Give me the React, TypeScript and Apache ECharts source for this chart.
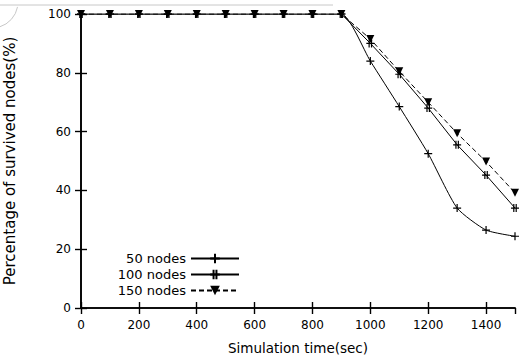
import React, { useEffect, useRef } from "react";
import * as echarts from "echarts";

const times = [0, 100, 200, 300, 400, 500, 600, 700, 800, 900, 1000, 1100, 1200, 1300, 1400, 1500];
const nodes50 = [100, 100, 100, 100, 100, 100, 100, 100, 100, 100, 84, 68.5, 52.5, 34, 26.5, 24.4];
const nodes100 = [100, 100, 100, 100, 100, 100, 100, 100, 100, 100, 90, 79.5, 68, 55.5, 45.2, 34];
const nodes150 = [100, 100, 100, 100, 100, 100, 100, 100, 100, 100, 91.5, 80.5, 70, 59.4, 49.8, 39.2];
const seriesNames = ["50 nodes", "100 nodes", "150 nodes"];
const xTitle = "Simulation time(sec)";
const yTitle = "Percentage of survived nodes(%)";

const FONT = "DejaVu Sans";

export default function App() {
  const ref = useRef<HTMLDivElement>(null);
  useEffect(() => {
    if (!ref.current) return;
    const chart = echarts.init(ref.current, undefined, { renderer: "svg" });
    const pair = (arr: number[]) => times.map((t, i) => [t, arr[i]]);
    const axisLine = { lineStyle: { color: "#000", width: 1.6 } };
    const tickIn = { inside: true, length: 6, lineStyle: { color: "#000", width: 1.4 } };
    const legendBase = {
      orient: "vertical",
      align: "right",
      right: 279,
      padding: 0,
      itemWidth: 48,
      itemHeight: 12,
      textStyle: { fontFamily: FONT, fontSize: 13, color: "#000" },
    };
    chart.setOption({
      animation: false,
      backgroundColor: "#fff",
      grid: { left: 81, right: 4, top: 14, bottom: 48, outerBoundsMode: "none", containLabel: false },
      legend: [
        { ...legendBase, data: [seriesNames[0]], top: 252 },
        { ...legendBase, data: [seriesNames[1]], top: 268 },
        { ...legendBase, data: [seriesNames[2]], top: 284 },
      ],
      graphic: [
        { type: "line", shape: { x1: 0, y1: 5, x2: 333, y2: 5 }, style: { stroke: "#c8c8c8", lineWidth: 1 } },
        {
          type: "arc",
          shape: { cx: -8, cy: 2, r: 26, startAngle: 0.19, endAngle: 1.27 },
          style: { stroke: "#c8c8c8", lineWidth: 1, fill: "none" },
        },
      ],
      xAxis: [
        {
          type: "value",
          min: 0,
          max: 1500,
          interval: 200,
          name: xTitle,
          nameLocation: "middle",
          nameGap: 33,
          nameTextStyle: { fontFamily: FONT, fontSize: 13.5, color: "#000", lineHeight: 14 },
          axisLine,
          axisTick: tickIn,
          axisLabel: {
            fontFamily: FONT,
            fontSize: 12,
            color: "#000",
            margin: 11,
            showMaxLabel: false,
            formatter: (v: number) => String(v),
          },
          splitLine: { show: false },
        },
        {
          type: "value",
          position: "top",
          min: 0,
          max: 1500,
          interval: 200,
          axisLine,
          axisTick: tickIn,
          axisLabel: { show: false },
          splitLine: { show: false },
        },
      ],
      yAxis: [
        {
          type: "value",
          min: 0,
          max: 100,
          interval: 20,
          name: yTitle,
          nameLocation: "middle",
          nameGap: 64,
          nameTextStyle: { fontFamily: FONT, fontSize: 15, color: "#000" },
          axisLine,
          axisTick: tickIn,
          axisLabel: { fontFamily: FONT, fontSize: 12, color: "#000", margin: 10 },
          splitLine: { show: false },
        },
        {
          type: "value",
          position: "right",
          min: 0,
          max: 100,
          interval: 20,
          axisLine,
          axisTick: tickIn,
          axisLabel: { show: false },
          splitLine: { show: false },
        },
      ],
      series: [
        {
          name: seriesNames[0],
          type: "line",
          data: pair(nodes50),
          smooth: 0.2,
          symbol: "path://M0,5H10M5,0V10",
          symbolSize: 8,
          lineStyle: { color: "#000", width: 1 },
          itemStyle: { color: "#000", borderColor: "#000", borderWidth: 1.2 },
          z: 3,
        },
        {
          name: seriesNames[1],
          type: "line",
          data: pair(nodes100),
          symbol: "path://M0,5H10M3.5,0V10M6.5,0V10",
          symbolSize: 8,
          lineStyle: { color: "#000", width: 1 },
          itemStyle: { color: "#000", borderColor: "#000", borderWidth: 1.2 },
          z: 4,
        },
        {
          name: seriesNames[2],
          type: "line",
          data: pair(nodes150),
          symbol: "triangle",
          symbolRotate: 180,
          symbolSize: 8,
          lineStyle: { color: "#000", width: 1, type: [5, 3] },
          itemStyle: { color: "#000", borderColor: "#000", borderWidth: 0 },
          z: 5,
        },
      ],
    });
    return () => chart.dispose();
  }, []);
  return <div ref={ref} style={{ width: 519, height: 356, position: "absolute", left: 0, top: 0 }} />;
}
